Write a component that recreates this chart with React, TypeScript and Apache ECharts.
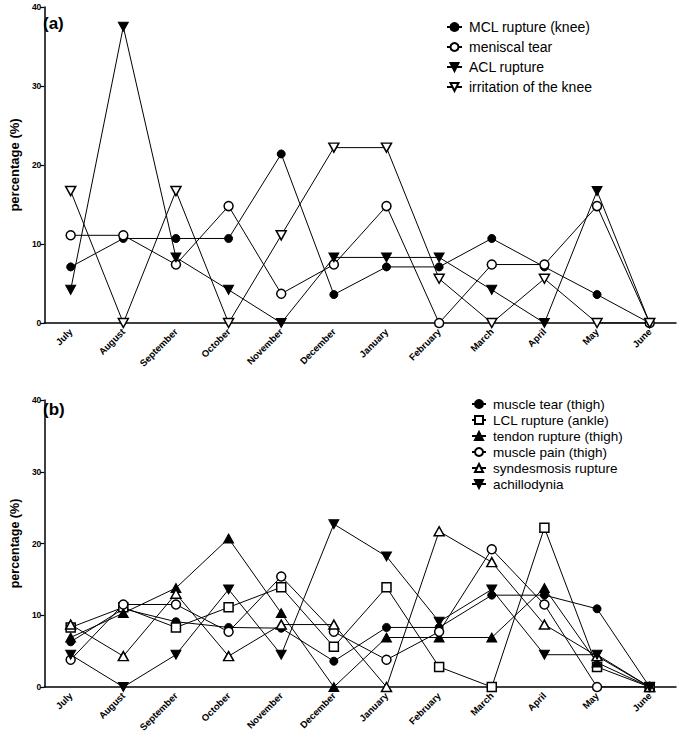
import React, { useEffect, useRef } from "react";
import * as echarts from "echarts";

const months = ["July", "August", "September", "October", "November", "December", "January", "February", "March", "April", "May", "June"];

const mclKnee = [7.1, 10.7, 10.7, 10.7, 21.4, 3.6, 7.1, 7.1, 10.7, 7.1, 3.6, 0];
const meniscalTear = [11.1, 11.1, 7.4, 14.8, 3.7, 7.4, 14.8, 0, 7.4, 7.4, 14.8, 0];
const aclRupture = [4.2, 37.5, 8.3, 4.2, 0, 8.3, 8.3, 8.3, 4.2, 0, 16.7, 0];
const kneeIrritation = [16.7, 0, 16.7, 0, 11.1, 22.2, 22.2, 5.6, 0, 5.6, 0, 0];

const muscleTear = [6.3, 10.9, 9.1, 8.3, 8.2, 3.6, 8.3, 8.3, 12.8, 12.8, 10.9, 0];
const lclAnkle = [8.3, 11.1, 8.3, 11.1, 13.9, 5.6, 13.9, 2.8, 0, 22.2, 2.8, 0];
const tendonRupture = [6.9, 10.3, 13.8, 20.7, 10.3, 0, 6.9, 6.9, 6.9, 13.8, 3.4, 0];
const musclePain = [3.8, 11.5, 11.5, 7.7, 15.4, 7.7, 3.8, 7.7, 19.2, 11.5, 0, 0];
const syndesmosis = [8.7, 4.3, 13.0, 4.3, 8.7, 8.7, 0, 21.7, 17.4, 8.7, 4.3, 0];
const achillodynia = [4.5, 0, 4.5, 13.6, 4.5, 22.7, 18.2, 9.1, 13.6, 4.5, 4.5, 0];

const yTicks = { min: 0, max: 40, interval: 10 };

const FONT = "Liberation Sans";
const DOWN_TRI = "path://M0,0L10,0L5,9Z";

const markers: Record<string, any> = {
  filledCircle: { symbol: "circle", symbolSize: 8, itemStyle: { color: "#000", borderColor: "#000", borderWidth: 1 } },
  openCircle: { symbol: "circle", symbolSize: 9, itemStyle: { color: "#fff", borderColor: "#000", borderWidth: 1.5 } },
  filledDown: { symbol: DOWN_TRI, symbolSize: [10, 9], itemStyle: { color: "#000", borderColor: "#000", borderWidth: 1 } },
  openDown: { symbol: DOWN_TRI, symbolSize: [10, 9], itemStyle: { color: "#fff", borderColor: "#000", borderWidth: 1.5 } },
  filledUp: { symbol: "triangle", symbolSize: [10, 9], itemStyle: { color: "#000", borderColor: "#000", borderWidth: 1 } },
  openUp: { symbol: "triangle", symbolSize: [10, 9], itemStyle: { color: "#fff", borderColor: "#000", borderWidth: 1.5 } },
  openSquare: { symbol: "rect", symbolSize: 9, itemStyle: { color: "#fff", borderColor: "#000", borderWidth: 1.5 } },
};

const panelA = [
  { name: "MCL rupture (knee)", data: mclKnee, m: "filledCircle" },
  { name: "meniscal tear", data: meniscalTear, m: "openCircle" },
  { name: "ACL rupture", data: aclRupture, m: "filledDown" },
  { name: "irritation of the knee", data: kneeIrritation, m: "openDown" },
];
const panelB = [
  { name: "muscle tear (thigh)", data: muscleTear, m: "filledCircle" },
  { name: "LCL rupture (ankle)", data: lclAnkle, m: "openSquare" },
  { name: "tendon rupture (thigh)", data: tendonRupture, m: "filledUp" },
  { name: "muscle pain (thigh)", data: musclePain, m: "openCircle" },
  { name: "syndesmosis rupture", data: syndesmosis, m: "openUp" },
  { name: "achillodynia", data: achillodynia, m: "filledDown" },
];

function makeX(gridIndex: number) {
  return {
    type: "category",
    gridIndex,
    position: "bottom",
    data: months,
    boundaryGap: true,
    axisLine: { lineStyle: { color: "#000", width: 1.5 } },
    axisTick: { alignWithLabel: true, length: 4, lineStyle: { color: "#000", width: 1.2 } },
    axisLabel: { rotate: 45, interval: 0, color: "#000", fontFamily: FONT, fontWeight: "bold", fontSize: 9.5, margin: 7 },
  };
}

function makeY(gridIndex: number, nameSize: number) {
  return {
    type: "value",
    gridIndex,
    ...yTicks,
    name: "percentage (%)",
    nameLocation: "middle",
    nameGap: 13,
    nameTextStyle: { color: "#000", fontFamily: FONT, fontWeight: "bold", fontSize: nameSize },
    splitLine: { show: false },
    axisLine: { show: true, lineStyle: { color: "#000", width: 1.5 } },
    axisTick: { show: true, length: 4, lineStyle: { color: "#000", width: 1.2 } },
    axisLabel: { color: "#000", fontFamily: FONT, fontWeight: "bold", fontSize: 8.5, margin: 3 },
  };
}

function makeSeries(list: any[], idx: number) {
  return list.map((s) => ({
    type: "line",
    name: s.name,
    xAxisIndex: idx,
    yAxisIndex: idx,
    data: s.data,
    ...markers[s.m],
    showAllSymbol: true,
    lineStyle: { color: "#000", width: 1 },
    emphasis: { disabled: true },
  }));
}

export default function App() {
  const ref = useRef<HTMLDivElement>(null);
  useEffect(() => {
    document.body.style.margin = "0";
    const chart = echarts.init(ref.current!, null, { renderer: "svg" });
    chart.setOption({
      animation: false,
      backgroundColor: "#fff",
      grid: [
        { left: 34, right: 2, top: 7, height: 316 },
        { left: 34, right: 2, top: 400, height: 287 },
      ],
      xAxis: [makeX(0), makeX(1)],
      yAxis: [makeY(0, 13), makeY(1, 12.5)],
      legend: [
        {
          data: panelA.map((s) => s.name),
          orient: "vertical",
          left: 441,
          top: 15,
          itemWidth: 15,
          itemHeight: 10,
          itemGap: 6,
          selectedMode: false,
          textStyle: { color: "#000", fontFamily: FONT, fontSize: 14, lineHeight: 14, padding: [0, 0, 0, 2] },
        },
        {
          data: panelB.map((s) => s.name),
          orient: "vertical",
          left: 466,
          top: 392,
          itemWidth: 14,
          itemHeight: 10,
          itemGap: 2,
          selectedMode: false,
          textStyle: { color: "#000", fontFamily: FONT, fontSize: 13.5, lineHeight: 12, padding: [0, 0, 0, 2] },
        },
      ],
      graphic: [
        { type: "text", left: 43, top: 15, style: { text: "(a)", fontFamily: FONT, fontWeight: "bold", fontSize: 17, fill: "#000" } },
        { type: "text", left: 43, top: 401, style: { text: "(b)", fontFamily: FONT, fontWeight: "bold", fontSize: 17, fill: "#000" } },
      ],
      series: [...makeSeries(panelA, 0), ...makeSeries(panelB, 1)],
    });
    return () => chart.dispose();
  }, []);
  return <div ref={ref} style={{ width: 678, height: 739 }} />;
}
